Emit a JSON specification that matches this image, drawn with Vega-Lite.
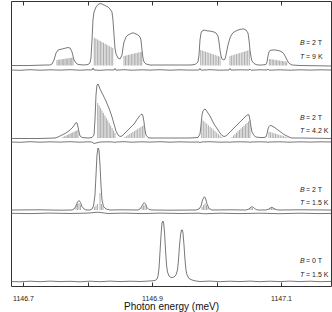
{
"$schema": "https://vega.github.io/schema/vega-lite/v6.json",
"width": 320, "height": 285,
"autosize": "none",
"padding": {"left": 11, "top": 1, "right": 1, "bottom": 26},
"config": {"view": {"stroke": "#333", "strokeWidth": 1}, "font": "Liberation Sans"},
"datasets": {
"lines": [
{"s":"p1","E":1146.6814,"I":220.5},{"s":"p1","E":1146.7109,"I":220.5},{"s":"p1","E":1146.7341,"I":221},{"s":"p1","E":1146.7419,"I":221},{"s":"p1","E":1146.7450,"I":222},{"s":"p1","E":1146.7481,"I":226},{"s":"p1","E":1146.7512,"I":233},{"s":"p1","E":1146.7543,"I":236},{"s":"p1","E":1146.7605,"I":237},{"s":"p1","E":1146.7667,"I":238},{"s":"p1","E":1146.7698,"I":238.5},{"s":"p1","E":1146.7729,"I":238},{"s":"p1","E":1146.7760,"I":234},{"s":"p1","E":1146.7775,"I":230},{"s":"p1","E":1146.7791,"I":226},{"s":"p1","E":1146.7822,"I":223},{"s":"p1","E":1146.7853,"I":221.5},{"s":"p1","E":1146.7946,"I":221},{"s":"p1","E":1146.8008,"I":221.5},{"s":"p1","E":1146.8039,"I":223},{"s":"p1","E":1146.8054,"I":228},{"s":"p1","E":1146.8070,"I":246},{"s":"p1","E":1146.8085,"I":266},{"s":"p1","E":1146.8101,"I":274},{"s":"p1","E":1146.8132,"I":279},{"s":"p1","E":1146.8163,"I":281.5},{"s":"p1","E":1146.8194,"I":282.5},{"s":"p1","E":1146.8225,"I":282},{"s":"p1","E":1146.8256,"I":281},{"s":"p1","E":1146.8287,"I":280},{"s":"p1","E":1146.8318,"I":279},{"s":"p1","E":1146.8349,"I":277},{"s":"p1","E":1146.8380,"I":274},{"s":"p1","E":1146.8395,"I":266},{"s":"p1","E":1146.8411,"I":251},{"s":"p1","E":1146.8426,"I":238},{"s":"p1","E":1146.8442,"I":232},{"s":"p1","E":1146.8473,"I":228},{"s":"p1","E":1146.8504,"I":227},{"s":"p1","E":1146.8535,"I":231},{"s":"p1","E":1146.8550,"I":238},{"s":"p1","E":1146.8566,"I":244},{"s":"p1","E":1146.8597,"I":249},{"s":"p1","E":1146.8628,"I":251},{"s":"p1","E":1146.8659,"I":252},{"s":"p1","E":1146.8690,"I":253},{"s":"p1","E":1146.8721,"I":253},{"s":"p1","E":1146.8752,"I":252},{"s":"p1","E":1146.8783,"I":251},{"s":"p1","E":1146.8814,"I":249},{"s":"p1","E":1146.8829,"I":246},{"s":"p1","E":1146.8845,"I":236},{"s":"p1","E":1146.8860,"I":228},{"s":"p1","E":1146.8876,"I":224},{"s":"p1","E":1146.8907,"I":222},{"s":"p1","E":1146.8969,"I":221},{"s":"p1","E":1146.9279,"I":221},{"s":"p1","E":1146.9589,"I":221},{"s":"p1","E":1146.9667,"I":221.5},{"s":"p1","E":1146.9713,"I":224},{"s":"p1","E":1146.9729,"I":231},{"s":"p1","E":1146.9744,"I":246},{"s":"p1","E":1146.9760,"I":253},{"s":"p1","E":1146.9775,"I":255},{"s":"p1","E":1146.9806,"I":256},{"s":"p1","E":1146.9837,"I":255.5},{"s":"p1","E":1146.9868,"I":255},{"s":"p1","E":1146.9899,"I":255},{"s":"p1","E":1146.9930,"I":254.5},{"s":"p1","E":1146.9961,"I":254},{"s":"p1","E":1146.9992,"I":253},{"s":"p1","E":1147.0023,"I":250},{"s":"p1","E":1147.0039,"I":244},{"s":"p1","E":1147.0054,"I":236},{"s":"p1","E":1147.0070,"I":230},{"s":"p1","E":1147.0085,"I":227},{"s":"p1","E":1147.0116,"I":226},{"s":"p1","E":1147.0132,"I":227},{"s":"p1","E":1147.0147,"I":231},{"s":"p1","E":1147.0178,"I":241},{"s":"p1","E":1147.0209,"I":248},{"s":"p1","E":1147.0240,"I":252},{"s":"p1","E":1147.0271,"I":254},{"s":"p1","E":1147.0302,"I":255},{"s":"p1","E":1147.0333,"I":256},{"s":"p1","E":1147.0364,"I":256.5},{"s":"p1","E":1147.0395,"I":257},{"s":"p1","E":1147.0426,"I":257},{"s":"p1","E":1147.0457,"I":256},{"s":"p1","E":1147.0488,"I":253},{"s":"p1","E":1147.0504,"I":246},{"s":"p1","E":1147.0519,"I":236},{"s":"p1","E":1147.0535,"I":229},{"s":"p1","E":1147.0550,"I":225},{"s":"p1","E":1147.0581,"I":222.5},{"s":"p1","E":1147.0612,"I":221.5},{"s":"p1","E":1147.0643,"I":221},{"s":"p1","E":1147.0705,"I":221},{"s":"p1","E":1147.0767,"I":221.5},{"s":"p1","E":1147.0783,"I":224},{"s":"p1","E":1147.0798,"I":230},{"s":"p1","E":1147.0814,"I":234},{"s":"p1","E":1147.0829,"I":235.5},{"s":"p1","E":1147.0860,"I":236},{"s":"p1","E":1147.0891,"I":236},{"s":"p1","E":1147.0922,"I":236},{"s":"p1","E":1147.0953,"I":235.5},{"s":"p1","E":1147.0984,"I":235},{"s":"p1","E":1147.1016,"I":234},{"s":"p1","E":1147.1047,"I":232},{"s":"p1","E":1147.1078,"I":228},{"s":"p1","E":1147.1109,"I":224},{"s":"p1","E":1147.1140,"I":222},{"s":"p1","E":1147.1171,"I":221},{"s":"p1","E":1147.1295,"I":220.5},{"s":"p1","E":1147.1775,"I":220},

{"s":"n1","E":1146.6814,"I":216},{"s":"n1","E":1146.6953,"I":215.7},{"s":"n1","E":1146.7109,"I":216.3},{"s":"n1","E":1146.7264,"I":215.8},{"s":"n1","E":1146.7419,"I":216.2},{"s":"n1","E":1146.7574,"I":215.9},{"s":"n1","E":1146.7729,"I":216.3},{"s":"n1","E":1146.7884,"I":215.8},{"s":"n1","E":1146.8008,"I":216.2},{"s":"n1","E":1146.8070,"I":216},{"s":"n1","E":1146.8085,"I":218},{"s":"n1","E":1146.8101,"I":216},{"s":"n1","E":1146.8194,"I":215.7},{"s":"n1","E":1146.8318,"I":216.2},{"s":"n1","E":1146.8411,"I":216},{"s":"n1","E":1146.8426,"I":217.5},{"s":"n1","E":1146.8442,"I":215.8},{"s":"n1","E":1146.8566,"I":216.3},{"s":"n1","E":1146.8690,"I":215.8},{"s":"n1","E":1146.8845,"I":216.2},{"s":"n1","E":1146.8969,"I":215.9},{"s":"n1","E":1146.9124,"I":216.3},{"s":"n1","E":1146.9279,"I":215.8},{"s":"n1","E":1146.9434,"I":216.2},{"s":"n1","E":1146.9589,"I":215.9},{"s":"n1","E":1146.9729,"I":216},{"s":"n1","E":1146.9744,"I":217.5},{"s":"n1","E":1146.9760,"I":215.8},{"s":"n1","E":1146.9899,"I":216.3},{"s":"n1","E":1147.0054,"I":215.8},{"s":"n1","E":1147.0194,"I":216},{"s":"n1","E":1147.0209,"I":217.5},{"s":"n1","E":1147.0225,"I":215.9},{"s":"n1","E":1147.0364,"I":216.2},{"s":"n1","E":1147.0504,"I":216},{"s":"n1","E":1147.0519,"I":217},{"s":"n1","E":1147.0535,"I":215.8},{"s":"n1","E":1147.0674,"I":216.2},{"s":"n1","E":1147.0783,"I":216},{"s":"n1","E":1147.0798,"I":217},{"s":"n1","E":1147.0814,"I":215.8},{"s":"n1","E":1147.0984,"I":216.2},{"s":"n1","E":1147.1140,"I":215.8},{"s":"n1","E":1147.1295,"I":216.2},{"s":"n1","E":1147.1450,"I":215.9},{"s":"n1","E":1147.1605,"I":216.2},{"s":"n1","E":1147.1775,"I":216},

{"s":"p2","E":1146.6814,"I":147.5},{"s":"p2","E":1146.7264,"I":147.5},{"s":"p2","E":1146.7496,"I":148},{"s":"p2","E":1146.7543,"I":149},{"s":"p2","E":1146.7605,"I":151},{"s":"p2","E":1146.7667,"I":153},{"s":"p2","E":1146.7729,"I":156},{"s":"p2","E":1146.7775,"I":159},{"s":"p2","E":1146.7806,"I":162},{"s":"p2","E":1146.7822,"I":163.5},{"s":"p2","E":1146.7837,"I":163},{"s":"p2","E":1146.7853,"I":159},{"s":"p2","E":1146.7868,"I":154},{"s":"p2","E":1146.7884,"I":150},{"s":"p2","E":1146.7915,"I":148.5},{"s":"p2","E":1146.8008,"I":148},{"s":"p2","E":1146.8070,"I":148.5},{"s":"p2","E":1146.8101,"I":151},{"s":"p2","E":1146.8116,"I":166},{"s":"p2","E":1146.8132,"I":191},{"s":"p2","E":1146.8147,"I":201},{"s":"p2","E":1146.8163,"I":202},{"s":"p2","E":1146.8178,"I":200},{"s":"p2","E":1146.8194,"I":197},{"s":"p2","E":1146.8225,"I":193},{"s":"p2","E":1146.8256,"I":189},{"s":"p2","E":1146.8287,"I":185},{"s":"p2","E":1146.8318,"I":180},{"s":"p2","E":1146.8349,"I":175},{"s":"p2","E":1146.8380,"I":169},{"s":"p2","E":1146.8411,"I":162},{"s":"p2","E":1146.8442,"I":155},{"s":"p2","E":1146.8473,"I":151},{"s":"p2","E":1146.8504,"I":149.5},{"s":"p2","E":1146.8535,"I":150},{"s":"p2","E":1146.8566,"I":152},{"s":"p2","E":1146.8597,"I":154},{"s":"p2","E":1146.8628,"I":156},{"s":"p2","E":1146.8659,"I":158},{"s":"p2","E":1146.8690,"I":160},{"s":"p2","E":1146.8721,"I":162},{"s":"p2","E":1146.8752,"I":165},{"s":"p2","E":1146.8783,"I":168},{"s":"p2","E":1146.8814,"I":170.5},{"s":"p2","E":1146.8829,"I":171.5},{"s":"p2","E":1146.8845,"I":172},{"s":"p2","E":1146.8860,"I":170},{"s":"p2","E":1146.8876,"I":164},{"s":"p2","E":1146.8891,"I":156},{"s":"p2","E":1146.8907,"I":151},{"s":"p2","E":1146.8938,"I":148.5},{"s":"p2","E":1146.8969,"I":148},{"s":"p2","E":1146.9589,"I":148},{"s":"p2","E":1146.9713,"I":148.5},{"s":"p2","E":1146.9744,"I":152},{"s":"p2","E":1146.9760,"I":161},{"s":"p2","E":1146.9775,"I":171},{"s":"p2","E":1146.9791,"I":175},{"s":"p2","E":1146.9806,"I":176.5},{"s":"p2","E":1146.9822,"I":177},{"s":"p2","E":1146.9837,"I":176},{"s":"p2","E":1146.9868,"I":173},{"s":"p2","E":1146.9899,"I":170},{"s":"p2","E":1146.9930,"I":166},{"s":"p2","E":1146.9961,"I":162},{"s":"p2","E":1146.9992,"I":159},{"s":"p2","E":1147.0023,"I":156},{"s":"p2","E":1147.0054,"I":153},{"s":"p2","E":1147.0085,"I":150.5},{"s":"p2","E":1147.0116,"I":149.5},{"s":"p2","E":1147.0147,"I":150},{"s":"p2","E":1147.0178,"I":152},{"s":"p2","E":1147.0209,"I":154},{"s":"p2","E":1147.0240,"I":156},{"s":"p2","E":1147.0271,"I":158},{"s":"p2","E":1147.0302,"I":160},{"s":"p2","E":1147.0333,"I":162},{"s":"p2","E":1147.0364,"I":164},{"s":"p2","E":1147.0395,"I":166},{"s":"p2","E":1147.0426,"I":168},{"s":"p2","E":1147.0457,"I":170},{"s":"p2","E":1147.0488,"I":171.5},{"s":"p2","E":1147.0504,"I":171},{"s":"p2","E":1147.0519,"I":166},{"s":"p2","E":1147.0535,"I":159},{"s":"p2","E":1147.0550,"I":154},{"s":"p2","E":1147.0581,"I":150.5},{"s":"p2","E":1147.0612,"I":149},{"s":"p2","E":1147.0674,"I":148.5},{"s":"p2","E":1147.0736,"I":148.5},{"s":"p2","E":1147.0767,"I":149},{"s":"p2","E":1147.0783,"I":152},{"s":"p2","E":1147.0798,"I":157},{"s":"p2","E":1147.0814,"I":159.5},{"s":"p2","E":1147.0829,"I":160.5},{"s":"p2","E":1147.0845,"I":160.5},{"s":"p2","E":1147.0860,"I":160},{"s":"p2","E":1147.0891,"I":159},{"s":"p2","E":1147.0922,"I":157.5},{"s":"p2","E":1147.0953,"I":156},{"s":"p2","E":1147.0984,"I":154.5},{"s":"p2","E":1147.1016,"I":153},{"s":"p2","E":1147.1047,"I":151.5},{"s":"p2","E":1147.1078,"I":150.5},{"s":"p2","E":1147.1109,"I":149.5},{"s":"p2","E":1147.1140,"I":148.5},{"s":"p2","E":1147.1171,"I":148},{"s":"p2","E":1147.1295,"I":148},{"s":"p2","E":1147.1775,"I":147.5},

{"s":"n2","E":1146.6814,"I":144},{"s":"n2","E":1146.6953,"I":143.7},{"s":"n2","E":1146.7109,"I":144.3},{"s":"n2","E":1146.7264,"I":143.8},{"s":"n2","E":1146.7419,"I":144.2},{"s":"n2","E":1146.7574,"I":143.9},{"s":"n2","E":1146.7729,"I":144.3},{"s":"n2","E":1146.7884,"I":143.8},{"s":"n2","E":1146.8008,"I":144.2},{"s":"n2","E":1146.8070,"I":144},{"s":"n2","E":1146.8101,"I":142.5},{"s":"n2","E":1146.8194,"I":144},{"s":"n2","E":1146.8318,"I":144.2},{"s":"n2","E":1146.8411,"I":143.9},{"s":"n2","E":1146.8426,"I":143.4},{"s":"n2","E":1146.8442,"I":144},{"s":"n2","E":1146.8566,"I":144.3},{"s":"n2","E":1146.8690,"I":143.8},{"s":"n2","E":1146.8845,"I":144.2},{"s":"n2","E":1146.8969,"I":143.9},{"s":"n2","E":1146.9124,"I":144.3},{"s":"n2","E":1146.9279,"I":143.8},{"s":"n2","E":1146.9434,"I":144.2},{"s":"n2","E":1146.9589,"I":143.9},{"s":"n2","E":1146.9729,"I":144},{"s":"n2","E":1146.9744,"I":143.2},{"s":"n2","E":1146.9760,"I":144},{"s":"n2","E":1146.9899,"I":144.3},{"s":"n2","E":1147.0054,"I":143.8},{"s":"n2","E":1147.0194,"I":144},{"s":"n2","E":1147.0209,"I":143.5},{"s":"n2","E":1147.0225,"I":144},{"s":"n2","E":1147.0364,"I":144.2},{"s":"n2","E":1147.0504,"I":144},{"s":"n2","E":1147.0519,"I":143.5},{"s":"n2","E":1147.0535,"I":144},{"s":"n2","E":1147.0674,"I":144.2},{"s":"n2","E":1147.0783,"I":144},{"s":"n2","E":1147.0798,"I":143.5},{"s":"n2","E":1147.0814,"I":144},{"s":"n2","E":1147.0984,"I":144.2},{"s":"n2","E":1147.1140,"I":143.8},{"s":"n2","E":1147.1295,"I":144.2},{"s":"n2","E":1147.1450,"I":143.9},{"s":"n2","E":1147.1605,"I":144.2},{"s":"n2","E":1147.1775,"I":144},

{"s":"p3","E":1146.6814,"I":76},{"s":"p3","E":1146.7264,"I":76.2},{"s":"p3","E":1146.7574,"I":75.8},{"s":"p3","E":1146.7760,"I":76},{"s":"p3","E":1146.7791,"I":77},{"s":"p3","E":1146.7822,"I":80},{"s":"p3","E":1146.7845,"I":84},{"s":"p3","E":1146.7868,"I":85.5},{"s":"p3","E":1146.7891,"I":83.5},{"s":"p3","E":1146.7915,"I":79.5},{"s":"p3","E":1146.7946,"I":77},{"s":"p3","E":1146.7977,"I":76},{"s":"p3","E":1146.8039,"I":76},{"s":"p3","E":1146.8070,"I":77},{"s":"p3","E":1146.8093,"I":80},{"s":"p3","E":1146.8116,"I":91},{"s":"p3","E":1146.8132,"I":111},{"s":"p3","E":1146.8147,"I":131},{"s":"p3","E":1146.8163,"I":138},{"s":"p3","E":1146.8178,"I":136},{"s":"p3","E":1146.8194,"I":121},{"s":"p3","E":1146.8209,"I":101},{"s":"p3","E":1146.8225,"I":86},{"s":"p3","E":1146.8248,"I":79.5},{"s":"p3","E":1146.8287,"I":77},{"s":"p3","E":1146.8349,"I":76},{"s":"p3","E":1146.8504,"I":76.2},{"s":"p3","E":1146.8783,"I":76},{"s":"p3","E":1146.8814,"I":77},{"s":"p3","E":1146.8845,"I":80},{"s":"p3","E":1146.8865,"I":82.5},{"s":"p3","E":1146.8881,"I":83.3},{"s":"p3","E":1146.8899,"I":82},{"s":"p3","E":1146.8922,"I":78.5},{"s":"p3","E":1146.8953,"I":76.5},{"s":"p3","E":1146.9000,"I":76},{"s":"p3","E":1146.9279,"I":75.8},{"s":"p3","E":1146.9682,"I":76},{"s":"p3","E":1146.9729,"I":77},{"s":"p3","E":1146.9760,"I":80},{"s":"p3","E":1146.9783,"I":86},{"s":"p3","E":1146.9811,"I":89.3},{"s":"p3","E":1146.9829,"I":88},{"s":"p3","E":1146.9853,"I":82},{"s":"p3","E":1146.9884,"I":77.5},{"s":"p3","E":1146.9930,"I":76},{"s":"p3","E":1147.0209,"I":76.2},{"s":"p3","E":1147.0457,"I":76},{"s":"p3","E":1147.0504,"I":77},{"s":"p3","E":1147.0535,"I":79},{"s":"p3","E":1147.0550,"I":79.3},{"s":"p3","E":1147.0574,"I":78.5},{"s":"p3","E":1147.0612,"I":76.5},{"s":"p3","E":1147.0643,"I":76},{"s":"p3","E":1147.0767,"I":76},{"s":"p3","E":1147.0814,"I":77},{"s":"p3","E":1147.0845,"I":78.5},{"s":"p3","E":1147.0860,"I":78.7},{"s":"p3","E":1147.0891,"I":77.5},{"s":"p3","E":1147.0922,"I":76.5},{"s":"p3","E":1147.0953,"I":76},{"s":"p3","E":1147.1295,"I":76.2},{"s":"p3","E":1147.1775,"I":76},

{"s":"n3","E":1146.6814,"I":72.7},{"s":"n3","E":1146.7109,"I":72.4},{"s":"n3","E":1146.7419,"I":72.9},{"s":"n3","E":1146.7729,"I":72.5},{"s":"n3","E":1146.8008,"I":72.9},{"s":"n3","E":1146.8163,"I":73.8},{"s":"n3","E":1146.8318,"I":72.5},{"s":"n3","E":1146.8566,"I":72.9},{"s":"n3","E":1146.8845,"I":72.4},{"s":"n3","E":1146.9124,"I":72.9},{"s":"n3","E":1146.9434,"I":72.5},{"s":"n3","E":1146.9729,"I":72.8},{"s":"n3","E":1146.9806,"I":72.2},{"s":"n3","E":1147.0054,"I":72.8},{"s":"n3","E":1147.0364,"I":72.4},{"s":"n3","E":1147.0674,"I":72.8},{"s":"n3","E":1147.0984,"I":72.3},{"s":"n3","E":1147.1295,"I":72.8},{"s":"n3","E":1147.1605,"I":72.4},{"s":"n3","E":1147.1775,"I":72.6},

{"s":"p4","E":1146.6814,"I":4.5},{"s":"p4","E":1146.6953,"I":4.2},{"s":"p4","E":1146.7109,"I":4.8},{"s":"p4","E":1146.7264,"I":4.3},{"s":"p4","E":1146.7419,"I":4.9},{"s":"p4","E":1146.7574,"I":4.4},{"s":"p4","E":1146.7729,"I":4.7},{"s":"p4","E":1146.7884,"I":4.2},{"s":"p4","E":1146.8039,"I":4.8},{"s":"p4","E":1146.8194,"I":4.3},{"s":"p4","E":1146.8349,"I":4.9},{"s":"p4","E":1146.8504,"I":4.4},{"s":"p4","E":1146.8659,"I":4.8},{"s":"p4","E":1146.8814,"I":4.5},{"s":"p4","E":1146.8969,"I":5},{"s":"p4","E":1146.9047,"I":5.5},{"s":"p4","E":1146.9078,"I":7},{"s":"p4","E":1146.9093,"I":10},{"s":"p4","E":1146.9109,"I":18},{"s":"p4","E":1146.9124,"I":34},{"s":"p4","E":1146.9140,"I":51},{"s":"p4","E":1146.9155,"I":63},{"s":"p4","E":1146.9166,"I":65},{"s":"p4","E":1146.9178,"I":64},{"s":"p4","E":1146.9194,"I":54},{"s":"p4","E":1146.9209,"I":36},{"s":"p4","E":1146.9225,"I":21},{"s":"p4","E":1146.9240,"I":14},{"s":"p4","E":1146.9264,"I":10},{"s":"p4","E":1146.9295,"I":8.5},{"s":"p4","E":1146.9318,"I":8.5},{"s":"p4","E":1146.9341,"I":9},{"s":"p4","E":1146.9372,"I":11},{"s":"p4","E":1146.9395,"I":16},{"s":"p4","E":1146.9411,"I":26},{"s":"p4","E":1146.9426,"I":40},{"s":"p4","E":1146.9442,"I":51},{"s":"p4","E":1146.9457,"I":56},{"s":"p4","E":1146.9470,"I":56},{"s":"p4","E":1146.9481,"I":53},{"s":"p4","E":1146.9496,"I":41},{"s":"p4","E":1146.9512,"I":26},{"s":"p4","E":1146.9527,"I":16},{"s":"p4","E":1146.9543,"I":11},{"s":"p4","E":1146.9574,"I":7.5},{"s":"p4","E":1146.9620,"I":6},{"s":"p4","E":1146.9682,"I":5},{"s":"p4","E":1146.9744,"I":4.5},{"s":"p4","E":1146.9899,"I":4.9},{"s":"p4","E":1147.0054,"I":4.3},{"s":"p4","E":1147.0209,"I":4.8},{"s":"p4","E":1147.0364,"I":4.4},{"s":"p4","E":1147.0519,"I":4.9},{"s":"p4","E":1147.0674,"I":4.3},{"s":"p4","E":1147.0829,"I":4.8},{"s":"p4","E":1147.0984,"I":4.4},{"s":"p4","E":1147.1140,"I":4.9},{"s":"p4","E":1147.1295,"I":4.4},{"s":"p4","E":1147.1450,"I":4.8},{"s":"p4","E":1147.1605,"I":4.3},{"s":"p4","E":1147.1775,"I":4.6}
],
"sticks": [
{"E":1146.7527,"top":226,"base":220.5},{"E":1146.7548,"top":226.2,"base":220.5},{"E":1146.7569,"top":226.4,"base":220.5},{"E":1146.7589,"top":226.6,"base":220.5},{"E":1146.7610,"top":226.8,"base":220.5},{"E":1146.7631,"top":227,"base":220.5},{"E":1146.7651,"top":227.3,"base":220.5},{"E":1146.7672,"top":227.5,"base":220.5},{"E":1146.7693,"top":227.7,"base":220.5},{"E":1146.7713,"top":227.9,"base":220.5},{"E":1146.7734,"top":228.1,"base":220.5},{"E":1146.7755,"top":228.3,"base":220.5},{"E":1146.7775,"top":228.5,"base":220.5},
{"E":1146.8105,"top":248.3,"base":220.5},{"E":1146.8129,"top":247.4,"base":220.5},{"E":1146.8153,"top":246.6,"base":220.5},{"E":1146.8177,"top":245.7,"base":220.5},{"E":1146.8200,"top":244.9,"base":220.5},{"E":1146.8224,"top":244.0,"base":220.5},{"E":1146.8248,"top":243.2,"base":220.5},{"E":1146.8272,"top":242.3,"base":220.5},{"E":1146.8296,"top":241.4,"base":220.5},{"E":1146.8319,"top":240.6,"base":220.5},{"E":1146.8343,"top":239.7,"base":220.5},{"E":1146.8367,"top":238.9,"base":220.5},{"E":1146.8391,"top":238.0,"base":220.5},
{"E":1146.8566,"top":230,"base":220.5},{"E":1146.8589,"top":230.4,"base":220.5},{"E":1146.8612,"top":230.7,"base":220.5},{"E":1146.8635,"top":231.1,"base":220.5},{"E":1146.8657,"top":231.4,"base":220.5},{"E":1146.8680,"top":231.8,"base":220.5},{"E":1146.8703,"top":232.2,"base":220.5},{"E":1146.8726,"top":232.5,"base":220.5},{"E":1146.8749,"top":232.9,"base":220.5},{"E":1146.8772,"top":233.2,"base":220.5},{"E":1146.8795,"top":233.6,"base":220.5},{"E":1146.8818,"top":233.9,"base":220.5},{"E":1146.8840,"top":234.3,"base":220.5},
{"E":1146.9755,"top":236,"base":220.5},{"E":1146.9780,"top":235.4,"base":220.5},{"E":1146.9805,"top":234.9,"base":220.5},{"E":1146.9830,"top":234.3,"base":220.5},{"E":1146.9855,"top":233.8,"base":220.5},{"E":1146.9880,"top":233.2,"base":220.5},{"E":1146.9905,"top":232.7,"base":220.5},{"E":1146.9930,"top":232.1,"base":220.5},{"E":1146.9955,"top":231.5,"base":220.5},{"E":1146.9980,"top":231.0,"base":220.5},{"E":1147.0005,"top":230.4,"base":220.5},{"E":1147.0030,"top":229.9,"base":220.5},{"E":1147.0054,"top":229.3,"base":220.5},
{"E":1147.0209,"top":230,"base":220.5},{"E":1147.0234,"top":230.5,"base":220.5},{"E":1147.0259,"top":231,"base":220.5},{"E":1147.0284,"top":231.5,"base":220.5},{"E":1147.0309,"top":232,"base":220.5},{"E":1147.0334,"top":232.5,"base":220.5},{"E":1147.0359,"top":233,"base":220.5},{"E":1147.0384,"top":233.5,"base":220.5},{"E":1147.0409,"top":234,"base":220.5},{"E":1147.0434,"top":234.5,"base":220.5},{"E":1147.0458,"top":235,"base":220.5},{"E":1147.0483,"top":235.5,"base":220.5},{"E":1147.0508,"top":236,"base":220.5},
{"E":1147.0819,"top":227,"base":220.5},{"E":1147.0841,"top":226.8,"base":220.5},{"E":1147.0864,"top":226.6,"base":220.5},{"E":1147.0886,"top":226.3,"base":220.5},{"E":1147.0909,"top":226.1,"base":220.5},{"E":1147.0931,"top":225.9,"base":220.5},{"E":1147.0954,"top":225.7,"base":220.5},{"E":1147.0976,"top":225.4,"base":220.5},{"E":1147.0999,"top":225.2,"base":220.5},{"E":1147.1021,"top":225.0,"base":220.5},{"E":1147.1043,"top":224.8,"base":220.5},{"E":1147.1066,"top":224.5,"base":220.5},{"E":1147.1088,"top":224.3,"base":220.5},
{"E":1146.7605,"top":148.5,"base":148},{"E":1146.7625,"top":149.1,"base":148},{"E":1146.7646,"top":149.8,"base":148},{"E":1146.7667,"top":150.4,"base":148},{"E":1146.7687,"top":151,"base":148},{"E":1146.7708,"top":151.6,"base":148},{"E":1146.7729,"top":152.3,"base":148},{"E":1146.7749,"top":152.9,"base":148},{"E":1146.7770,"top":153.5,"base":148},{"E":1146.7791,"top":154.1,"base":148},{"E":1146.7811,"top":154.8,"base":148},{"E":1146.7832,"top":155.4,"base":148},{"E":1146.7853,"top":156,"base":148},
{"E":1146.8158,"top":183,"base":148},{"E":1146.8180,"top":180.5,"base":148},{"E":1146.8203,"top":178,"base":148},{"E":1146.8225,"top":175.5,"base":148},{"E":1146.8247,"top":173,"base":148},{"E":1146.8270,"top":170.5,"base":148},{"E":1146.8292,"top":168,"base":148},{"E":1146.8314,"top":165.5,"base":148},{"E":1146.8337,"top":163,"base":148},{"E":1146.8359,"top":160.5,"base":148},{"E":1146.8381,"top":158,"base":148},{"E":1146.8404,"top":155.5,"base":148},{"E":1146.8426,"top":153,"base":148},
{"E":1146.8581,"top":149,"base":148},{"E":1146.8606,"top":150,"base":148},{"E":1146.8630,"top":151,"base":148},{"E":1146.8655,"top":152,"base":148},{"E":1146.8679,"top":153,"base":148},{"E":1146.8704,"top":154,"base":148},{"E":1146.8728,"top":155,"base":148},{"E":1146.8753,"top":156,"base":148},{"E":1146.8777,"top":157,"base":148},{"E":1146.8802,"top":158,"base":148},{"E":1146.8827,"top":159,"base":148},{"E":1146.8851,"top":160,"base":148},{"E":1146.8876,"top":161,"base":148},
{"E":1146.9771,"top":166.7,"base":148},{"E":1146.9796,"top":165.2,"base":148},{"E":1146.9822,"top":163.8,"base":148},{"E":1146.9848,"top":162.3,"base":148},{"E":1146.9874,"top":160.8,"base":148},{"E":1146.9900,"top":159.3,"base":148},{"E":1146.9926,"top":157.9,"base":148},{"E":1146.9951,"top":156.4,"base":148},{"E":1146.9977,"top":154.9,"base":148},{"E":1147.0003,"top":153.4,"base":148},{"E":1147.0029,"top":151.9,"base":148},{"E":1147.0055,"top":150.5,"base":148},{"E":1147.0081,"top":149,"base":148},
{"E":1147.0240,"top":149,"base":148},{"E":1147.0264,"top":150.4,"base":148},{"E":1147.0287,"top":151.8,"base":148},{"E":1147.0310,"top":153.3,"base":148},{"E":1147.0333,"top":154.7,"base":148},{"E":1147.0356,"top":156.1,"base":148},{"E":1147.0380,"top":157.5,"base":148},{"E":1147.0403,"top":158.9,"base":148},{"E":1147.0426,"top":160.3,"base":148},{"E":1147.0449,"top":161.8,"base":148},{"E":1147.0473,"top":163.2,"base":148},{"E":1147.0496,"top":164.6,"base":148},{"E":1147.0519,"top":166,"base":148},
{"E":1147.0814,"top":154.3,"base":148},{"E":1147.0839,"top":153.8,"base":148},{"E":1147.0864,"top":153.3,"base":148},{"E":1147.0889,"top":152.9,"base":148},{"E":1147.0914,"top":152.4,"base":148},{"E":1147.0939,"top":151.9,"base":148},{"E":1147.0964,"top":151.4,"base":148},{"E":1147.0989,"top":150.9,"base":148},{"E":1147.1014,"top":150.4,"base":148},{"E":1147.1038,"top":149.9,"base":148},{"E":1147.1063,"top":149.5,"base":148},{"E":1147.1088,"top":149,"base":148},{"E":1147.1113,"top":148.5,"base":148},
{"E":1146.7822,"top":81,"base":76},{"E":1146.7845,"top":82,"base":76},{"E":1146.7868,"top":83,"base":76},{"E":1146.7891,"top":81,"base":76},
{"E":1146.8109,"top":79,"base":76},{"E":1146.8132,"top":80.5,"base":76},{"E":1146.8155,"top":82,"base":76},{"E":1146.8194,"top":93,"base":76},{"E":1146.8217,"top":82,"base":76},{"E":1146.8240,"top":80,"base":76},
{"E":1146.8845,"top":79,"base":76},{"E":1146.8868,"top":80.5,"base":76},{"E":1146.8891,"top":81,"base":76},{"E":1146.8915,"top":80,"base":76},
{"E":1146.9775,"top":79,"base":76},{"E":1146.9798,"top":81,"base":76},{"E":1146.9822,"top":82.5,"base":76},{"E":1146.9845,"top":81,"base":76},{"E":1146.9868,"top":79,"base":76},
{"E":1147.0512,"top":78,"base":76},{"E":1147.0535,"top":78.5,"base":76},{"E":1147.0558,"top":78,"base":76},
{"E":1147.0829,"top":77.5,"base":76},{"E":1147.0853,"top":78,"base":76},{"E":1147.0876,"top":78,"base":76},{"E":1147.0899,"top":77.5,"base":76}
],
"labels": [
{"E":1147.1295,"I":242.7,"sym":"B","rest":"= 2 T"},
{"E":1147.1295,"I":228.7,"sym":"T","rest":"= 9 K"},
{"E":1147.1295,"I":167.7,"sym":"B","rest":"= 2 T"},
{"E":1147.1295,"I":155.3,"sym":"T","rest":"= 4.2 K"},
{"E":1147.1295,"I":96,"sym":"B","rest":"= 2 T"},
{"E":1147.1295,"I":83.3,"sym":"T","rest":"= 1.5 K"},
{"E":1147.1295,"I":25,"sym":"B","rest":"= 0 T"},
{"E":1147.1295,"I":11,"sym":"T","rest":"= 1.5 K"}
]
},
"resolve": {"axis": {"x": "independent"}},
"layer": [
{
"data": {"name": "lines"},
"mark": {"type": "line", "color": "#555", "strokeWidth": 0.8, "interpolate": "linear"},
"encoding": {
"x": {"field": "E", "type": "quantitative", "scale": {"domain": [1146.6814, 1147.1775], "nice": false, "zero": false},
"axis": {"orient": "bottom", "values": [1146.7, 1146.8, 1146.9, 1147.0, 1147.1], "labelExpr": "indexof(['1146.7','1146.9','1147.1'], format(datum.value,'.1f')) >= 0 ? format(datum.value,'.1f') : ''", "tickSize": -4, "tickColor": "#333", "labelPadding": 12, "labelFontSize": 7, "labelColor": "#222", "labelOverlap": false, "labelFlush": false, "domain": false, "grid": false, "title": "Photon energy (meV)", "titleFontSize": 10, "titleFontWeight": "normal", "titleColor": "#111", "titlePadding": 0}},
"y": {"field": "I", "type": "quantitative", "scale": {"domain": [0, 285], "nice": false, "zero": false},
"axis": {"title": "PL intensity", "labels": false, "ticks": false, "domain": false, "grid": false, "titleFontSize": 10, "titleFontWeight": "normal", "titleColor": "#111", "titlePadding": 2}},
"detail": {"field": "s", "type": "nominal"}
}
},
{
"data": {"name": "sticks"},
"mark": {"type": "rule", "color": "#8a8a8a", "strokeWidth": 0.7},
"encoding": {
"x": {"field": "E", "type": "quantitative", "axis": {"orient": "top", "values": [1146.7, 1146.8, 1146.9, 1147.0, 1147.1], "labels": false, "tickSize": -4, "tickColor": "#333", "domain": false, "grid": false, "title": null}},
"y": {"field": "base", "type": "quantitative", "axis": null},
"y2": {"field": "top"}
}
},
{
"data": {"name": "labels"},
"mark": {"type": "text", "align": "left", "baseline": "middle", "fontSize": 7, "fontStyle": "italic", "color": "#222"},
"encoding": {
"x": {"field": "E", "type": "quantitative", "axis": null},
"y": {"field": "I", "type": "quantitative", "axis": null},
"text": {"field": "sym"}
}
},
{
"data": {"name": "labels"},
"mark": {"type": "text", "align": "left", "baseline": "middle", "fontSize": 7, "dx": 6, "color": "#222"},
"encoding": {
"x": {"field": "E", "type": "quantitative", "axis": null},
"y": {"field": "I", "type": "quantitative", "axis": null},
"text": {"field": "rest"}
}
}
]
}
